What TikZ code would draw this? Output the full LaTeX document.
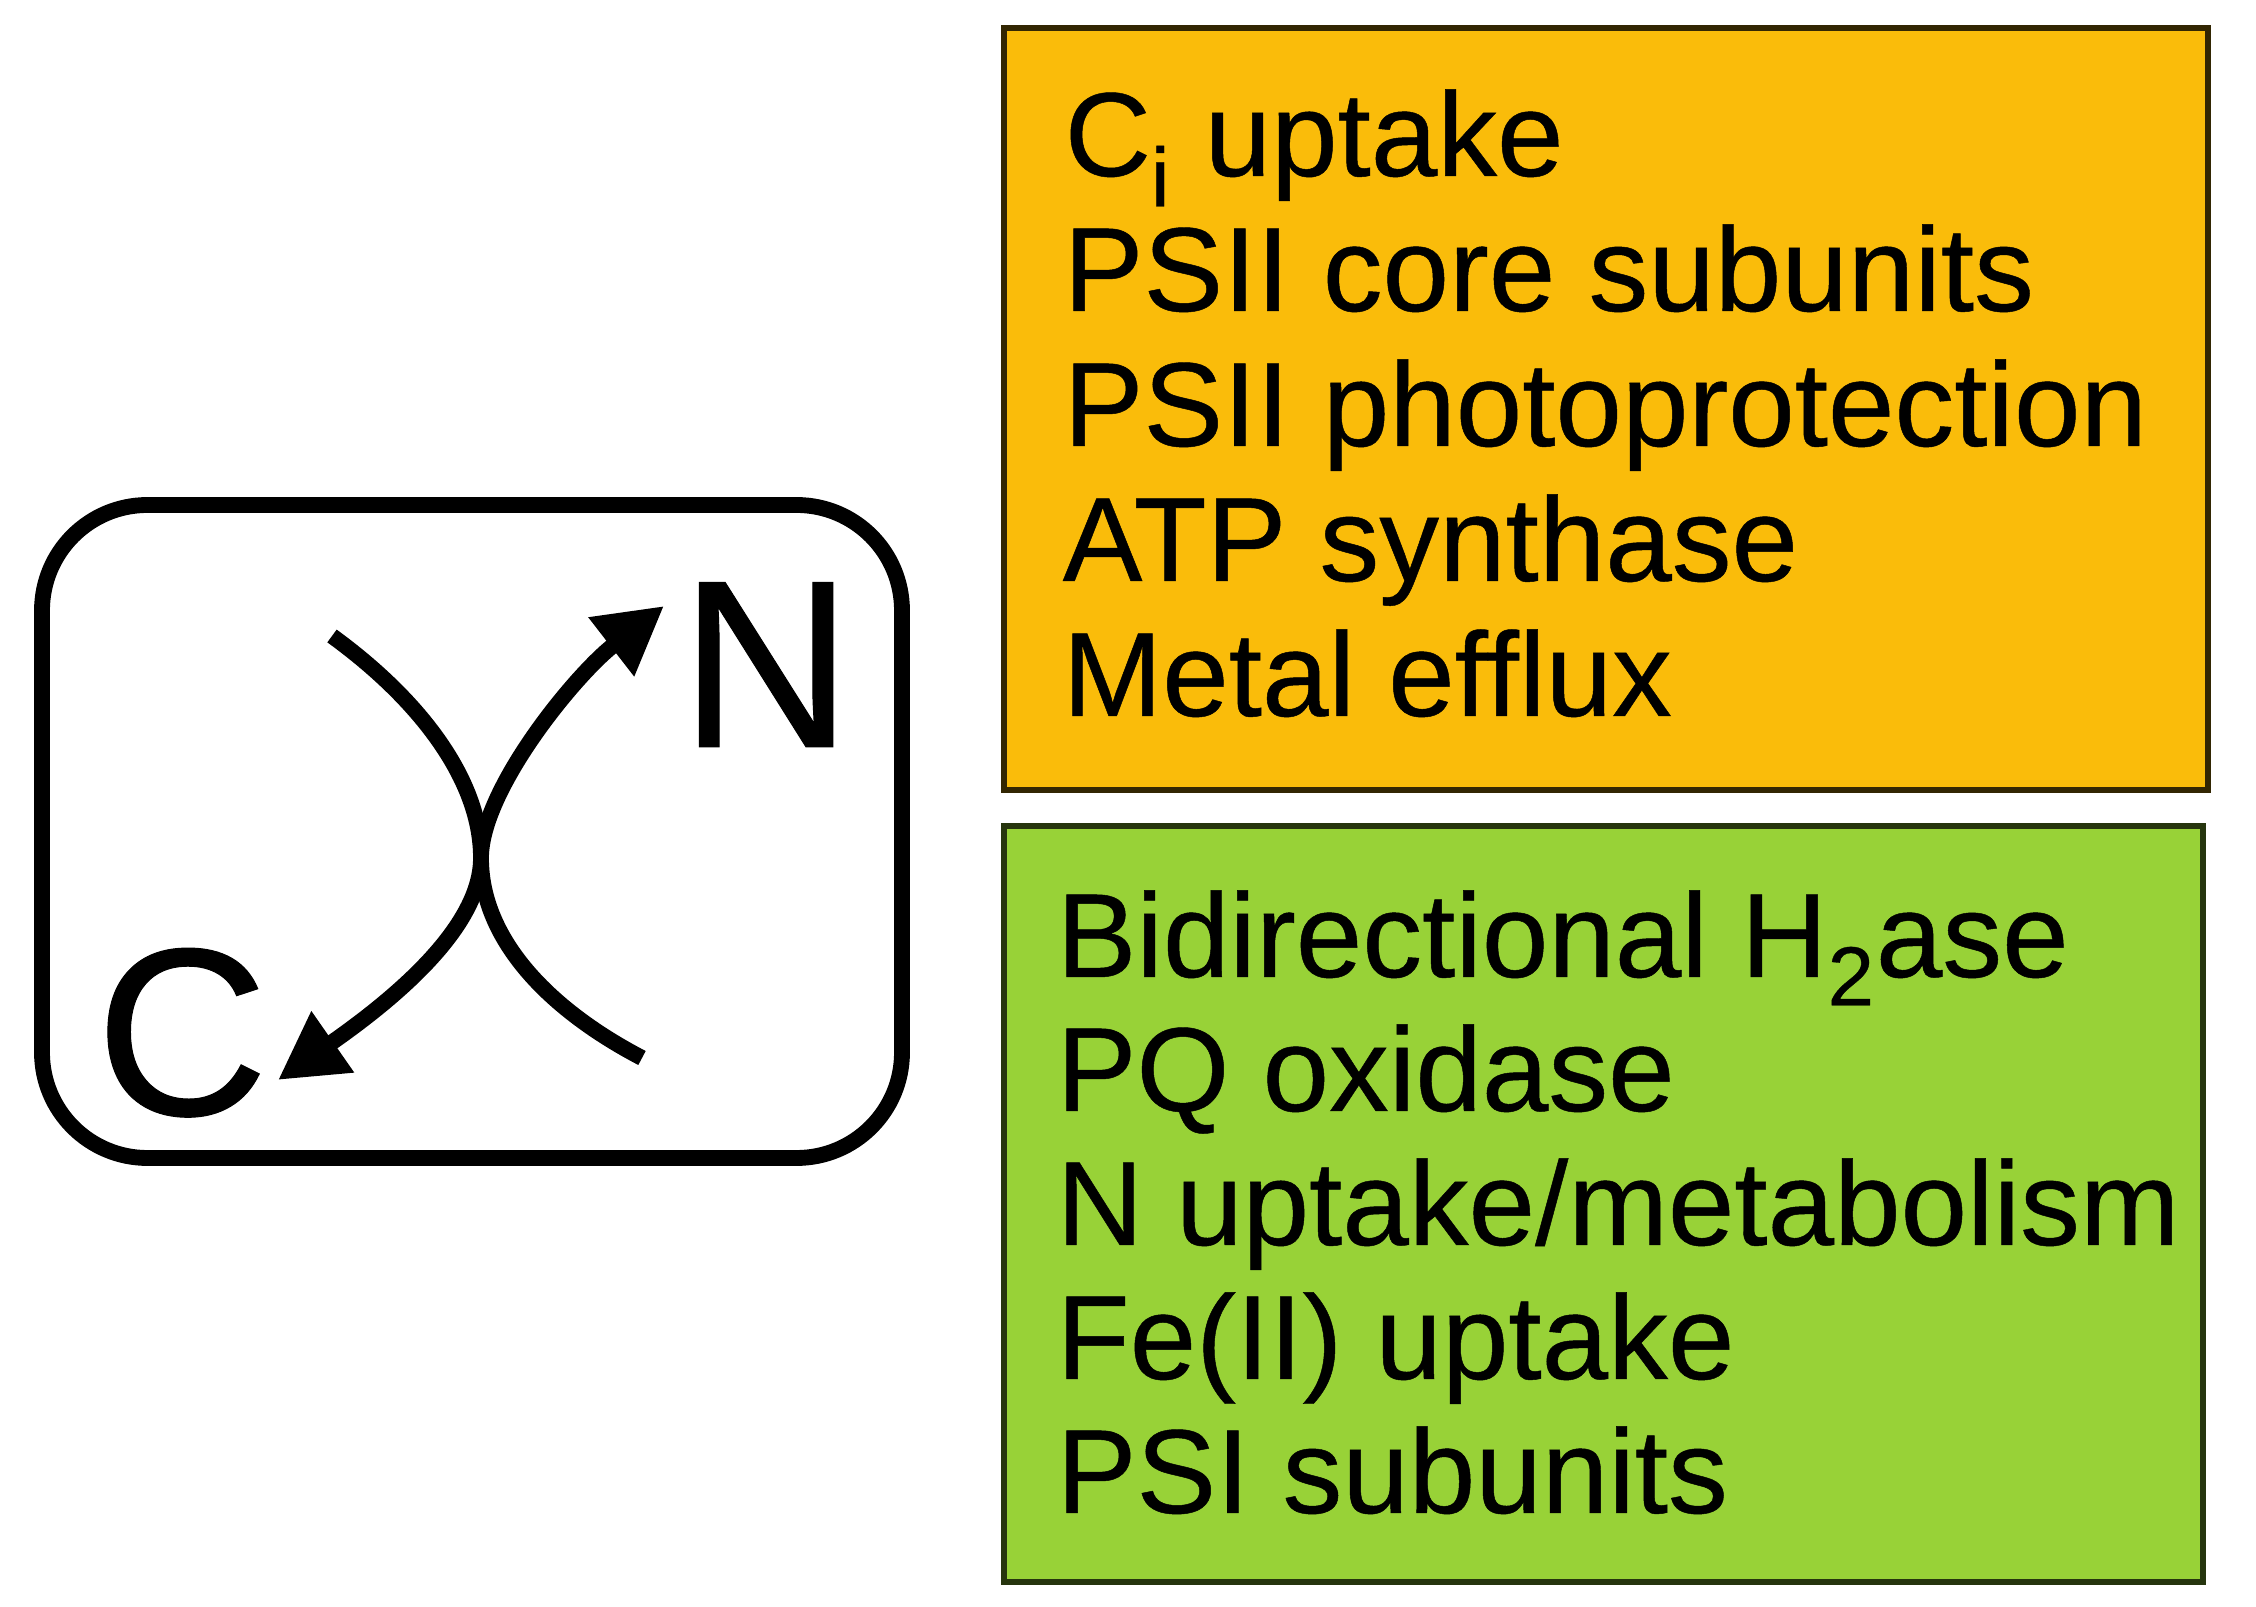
\documentclass[tikz,border=0pt]{standalone}
\usepackage{fontspec}
\setmainfont{Liberation Sans}[FakeBold=0.4]
\usetikzlibrary{arrows.meta}
\definecolor{boxorange}{RGB}{250,188,10}
\definecolor{boxgreen}{RGB}{152,210,55}

\begin{document}
\begin{tikzpicture}[x=0.01cm, y=-0.01cm,
    every node/.style={inner sep=0pt, anchor=base west},
    item/.style={font=\fontsize{34pt}{38pt}\selectfont},
    big/.style={font=\fontsize{68pt}{70pt}\selectfont},
    flux/.style={line width=4.5pt, line cap=butt}]
  \useasboundingbox (0,0) rectangle (2256,1607);

  % left panel: C and N fluxes
  \draw[line width=4.5pt, rounded corners=30pt] (42,505) rectangle (902,1158);
  \node[big] (nlab) at (679,747) {N};
  \node[big] (clab) at (95,1115) {C};

  \coordinate (ctip) at (278,1080);
  \coordinate (ntip) at (664,606);
  \coordinate (touch) at (481,858);
  \coordinate (topl) at (332,636);
  \coordinate (botr) at (642,1058);

  \draw[flux, {Triangle[length=19pt,width=20pt]}-{Triangle[length=19pt,width=20pt]}]
    (ctip) .. controls (400,995) and (481,925) .. (touch)
           .. controls (481,790) and (575,675) .. (ntip);
  \draw[flux] (topl) .. controls (420,700) and (481,780) .. (touch)
                     .. controls (481,940) and (550,1010) .. (botr);

  % upregulated
  \draw[fill=boxorange, draw=black!80!boxorange, line width=1.5pt] (1004,28) rectangle (2208,790);
  \node[item] (ciup) at (1064,176) {C\textsubscript{i} uptake};
  \node[item] (psiicore) at (1063,311) {PSII core subunits};
  \node[item] (psiiprot) at (1063,446) {PSII photoprotection};
  \node[item] (atp) at (1062,581) {ATP synthase};
  \node[item] (metal) at (1062,716) {Metal efflux};

  % downregulated
  \draw[fill=boxgreen, draw=black!75!boxgreen, line width=1.5pt] (1004,826) rectangle (2203,1582);
  \node[item] (hase) at (1056,977) {Bidirectional H\textsubscript{2}ase};
  \node[item] (pq) at (1056,1111) {PQ oxidase};
  \node[item] (nup) at (1056,1245) {N uptake/metabolism};
  \node[item] (fe) at (1056,1379) {Fe(II) uptake};
  \node[item] (psi) at (1056,1513) {PSI subunits};
\end{tikzpicture}
\end{document}
